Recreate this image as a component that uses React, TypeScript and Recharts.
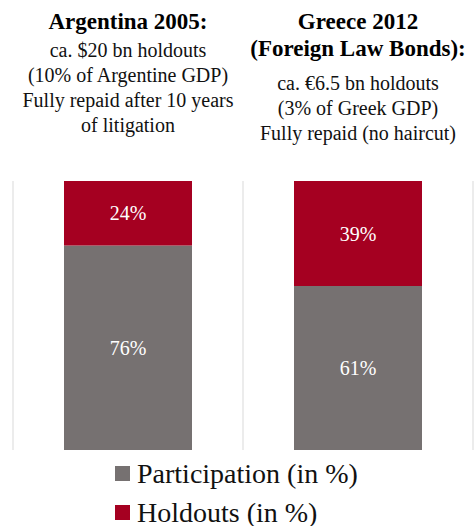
import React from 'react'
import { BarChart, Bar, XAxis, YAxis, CartesianGrid, Legend, LabelList } from 'recharts'

const countries = ['Argentina 2005', 'Greece 2012']
const titleLines = [['Argentina 2005:'], ['Greece 2012', '(Foreign Law Bonds):']]
const noteLines = [
  ['ca. $20 bn holdouts', '(10% of Argentine GDP)', 'Fully repaid after 10 years', 'of litigation'],
  ['ca. €6.5 bn holdouts', '(3% of Greek GDP)', 'Fully repaid (no haircut)'],
]
const participation = [76, 61]
const holdouts = [24, 39]

const GREY = '#767171'
const RED = '#A50021'
const FONT = '"Liberation Serif", "Times New Roman", serif'

const data = countries.map((name, i) => ({
  name,
  participation: participation[i],
  holdouts: holdouts[i],
}))

const legendItems = [
  { label: 'Participation (in %)', color: GREY },
  { label: 'Holdouts (in %)', color: RED },
]

// titles + notes above each column, drawn as the top axis ticks
function HeaderTick(props: any) {
  const { x, index } = props
  const titles = titleLines[index]
  const notes = noteLines[index]
  const titleGap = 27
  const noteGap = 25
  const noteStart = 21 + (titles.length - 1) * titleGap + (titles.length > 1 ? 35 : 29)
  return (
    <g>
      {titles.map((t, i) => (
        <text key={'t' + i} x={x} y={21 + i * titleGap} dy="0.35em" textAnchor="middle"
          fontFamily={FONT} fontSize={23} fontWeight="bold" fill="#000">
          {t}
        </text>
      ))}
      {notes.map((t, i) => (
        <text key={'n' + i} x={x} y={noteStart + i * noteGap} dy="0.35em" textAnchor="middle"
          fontFamily={FONT} fontSize={20} fill="#111">
          {t}
        </text>
      ))}
    </g>
  )
}

function LegendContent() {
  return (
    <div style={{ fontFamily: FONT, fontSize: 28, color: '#111', lineHeight: '32px' }}>
      {legendItems.map((item) => (
        <div key={item.label} style={{ display: 'flex', alignItems: 'center', height: 39 }}>
          <span style={{ display: 'inline-block', width: 15, height: 15, background: item.color, marginRight: 7 }} />
          <span>{item.label}</span>
        </div>
      ))}
    </div>
  )
}

export default function App() {
  return (
    <div style={{ position: 'absolute', left: 0, top: 0, width: 474, height: 526, background: '#fff' }}>
      <BarChart width={474} height={526} data={data} margin={{ top: 0, right: 1, bottom: 76, left: 13 }}>
        <CartesianGrid
          horizontal={false}
          stroke="#d9d9d9"
          verticalCoordinatesGenerator={({ offset }: any) => [
            offset.left,
            offset.left + offset.width / 2,
            offset.left + offset.width,
          ]}
        />
        <XAxis dataKey="name" orientation="top" height={181} axisLine={false} tickLine={false}
          tick={<HeaderTick />} interval={0} />
        <YAxis hide domain={[0, 100]} />
        <Legend layout="vertical" align="center" verticalAlign="middle" content={<LegendContent />}
          wrapperStyle={{ left: 115, top: 454, width: 300 }} />
        <Bar dataKey="participation" stackId="a" fill={GREY} barSize={128} isAnimationActive={false}>
          <LabelList dataKey="participation" position="center" formatter={(v: any) => `${v}%`}
            fill="#fff" fontFamily={FONT} fontSize={20} />
        </Bar>
        <Bar dataKey="holdouts" stackId="a" fill={RED} barSize={128} isAnimationActive={false}>
          <LabelList dataKey="holdouts" position="center" formatter={(v: any) => `${v}%`}
            fill="#fff" fontFamily={FONT} fontSize={20} />
        </Bar>
      </BarChart>
    </div>
  )
}
